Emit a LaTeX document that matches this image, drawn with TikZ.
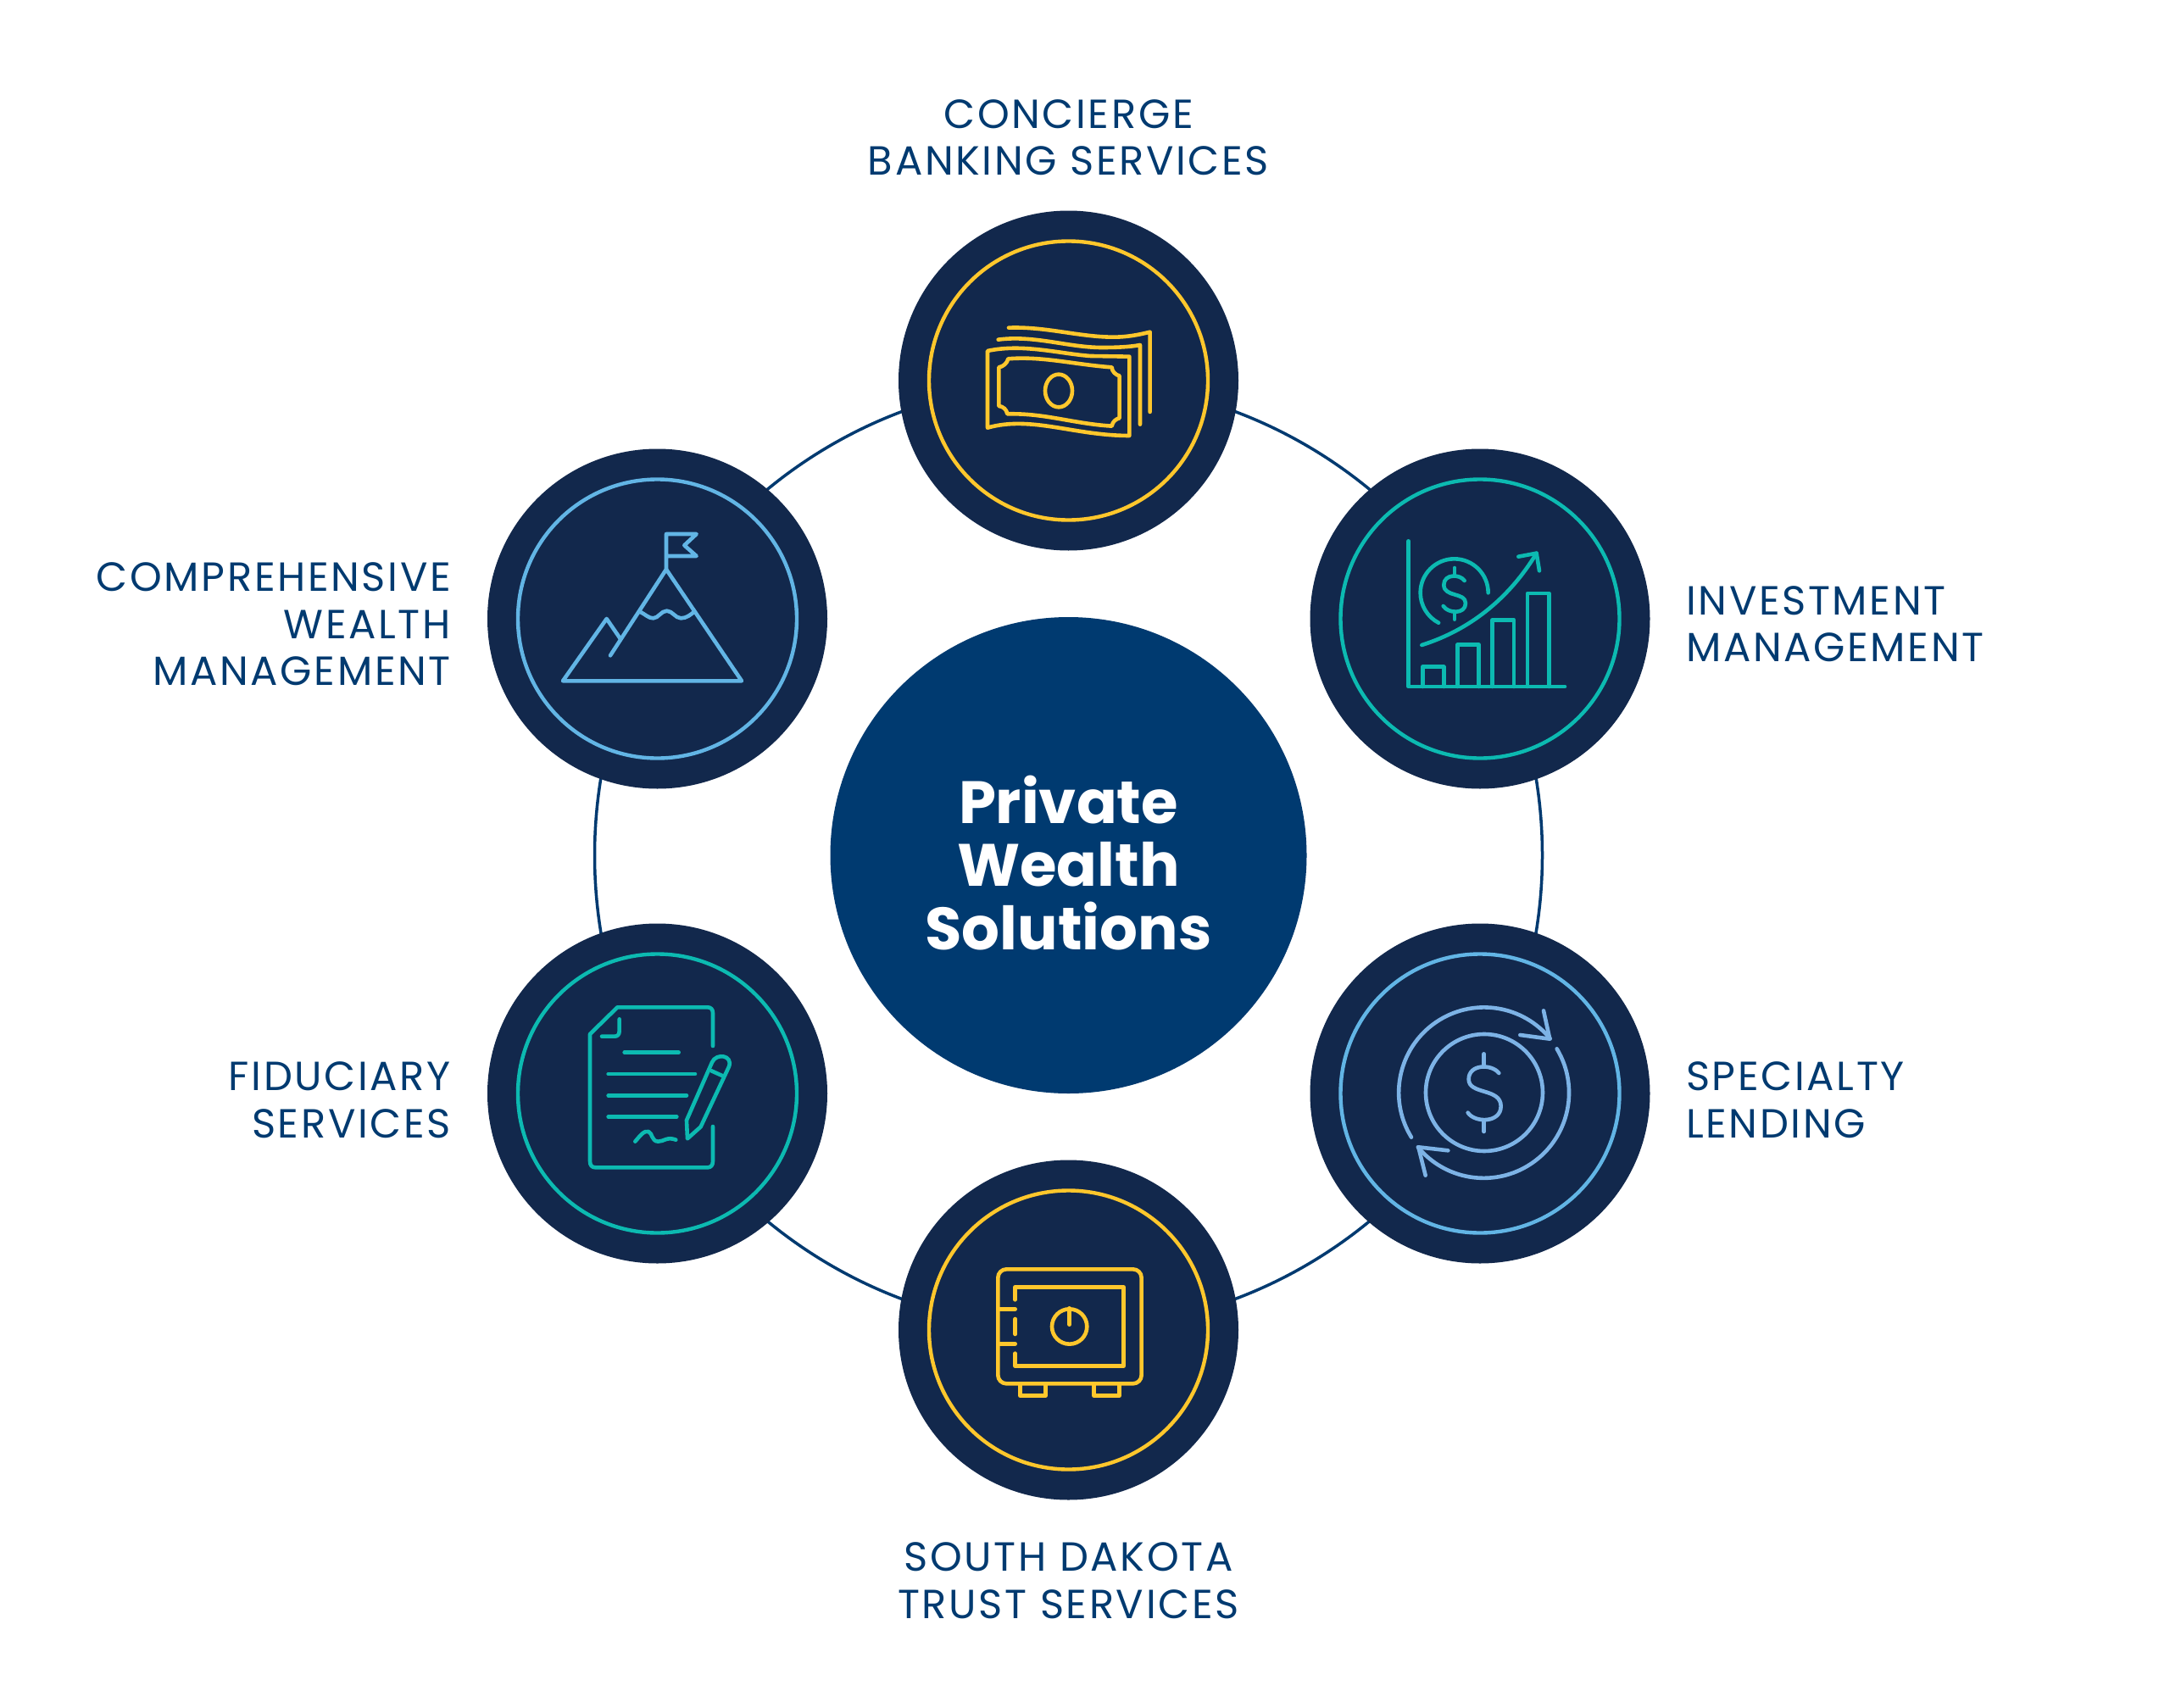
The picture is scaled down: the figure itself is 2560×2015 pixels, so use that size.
\documentclass[tikz,border=0pt]{standalone}
\usepackage{fontspec}
\setmainfont{Poppins}
\newfontfamily\labelfont[LetterSpace=5.5]{Poppins}
\newfontfamily\titlefont{Poppins Bold}
\definecolor{navy}{HTML}{12284C}
\definecolor{mid}{HTML}{003A70}
\definecolor{gold}{HTML}{FFC72C}
\definecolor{teal}{HTML}{0CBAB1}
\definecolor{sky}{HTML}{62B5E5}
\definecolor{soft}{HTML}{7DB3E6}
\tikzset{
  hub/.style={circle,fill=mid,minimum size=562pt,inner sep=0pt},
  hubtext/.style={text=white,align=center,inner sep=0pt,
    font=\titlefont\fontsize{70.5}{74.5}\selectfont},
  sat/.style={circle,fill=navy,minimum size=401pt,inner sep=0pt},
  ringnode/.style={circle,draw=#1,line width=4.4pt,minimum size=329pt,inner sep=0pt},
  lab/.style={text=mid,font=\labelfont\fontsize{48}{55.5}\selectfont,inner sep=0pt},
  ico/.style={draw=#1,line width=4.6pt,line cap=round,line join=round},
  zoomA/.style={x=0.3333pt,y=-0.3333pt}
}
\begin{document}
\begin{tikzpicture}[x=1pt,y=-1pt]
\path[use as bounding box,fill=white] (0,0) rectangle (2560,2015);
\coordinate (c) at (1260.5,1009);
\draw[mid,line width=3.5pt] (c) circle[radius=559];
\node[hub] (hubn) at (c) {};
\node[hubtext] (hubt) at (1260.5,1018) {Private\\Wealth\\Solutions};
\node[sat] (s1) at (1260.5,449) {};
\node[sat] (s2) at (1746,730) {};
\node[sat] (s3) at (1746,1290) {};
\node[sat] (s4) at (1260.5,1569) {};
\node[sat] (s5) at (775.5,1290) {};
\node[sat] (s6) at (775.5,730) {};
\node[ringnode=gold] (r1) at (s1) {};
\node[ringnode=teal] (r2) at (s2) {};
\node[ringnode=sky] (r3) at (s3) {};
\node[ringnode=gold] (r4) at (s4) {};
\node[ringnode=teal] (r5) at (s5) {};
\node[ringnode=sky] (r6) at (s6) {};
% labels
\node[lab,align=center] (l1) at (1260.5,162) {CONCIERGE\\BANKING SERVICES};
\node[lab,align=left,anchor=west] (l2) at (1989,736) {INVESTMENT\\MANAGEMENT};
\node[lab,align=left,anchor=west] (l3) at (1989,1297.5) {SPECIALTY\\LENDING};
\node[lab,align=center] (l4) at (1260.5,1864.5) {SOUTH DAKOTA\\TRUST SERVICES};
\node[lab,align=right,anchor=east] (l5) at (532,1297.5) {FIDUCIARY\\SERVICES};
\node[lab,align=right,anchor=east] (l6) at (532,736.5) {COMPREHENSIVE\\WEALTH\\MANAGEMENT};
% money
\begin{scope}[shift={(1100,330)},zoomA]
\path[ico=gold] (270,170) .. controls (400,165) and (520,203) .. (640,203) .. controls (690,203) and (730,195) .. (770,185) -- (770,468);
\path[ico=gold] (233,212) .. controls (360,195) and (480,240) .. (600,240) .. controls (650,240) and (700,238) .. (735,231) -- (735,512);
\path[ico=gold] (195,252) .. controls (320,225) and (450,262) .. (560,270) -- (697,272) -- (697,552) .. controls (500,552) and (350,480) .. (195,524) -- cycle;
\path[ico=gold] (268,280) .. controls (390,270) and (500,300) .. (635,310) .. controls (635,325) and (650,338) .. (662,340) -- (662,490) .. controls (650,492) and (637,503) .. (635,518) .. controls (500,510) and (400,472) .. (265,475) .. controls (263,460) and (250,448) .. (235,447) -- (235,310) .. controls (250,308) and (265,295) .. (268,280) -- cycle;
\path[ico=gold] (447,393) ellipse[x radius=48,y radius=58];
\end{scope}
% chart
\begin{scope}[shift={(1620,600)},zoomA]
\path[ico=teal] (125,115) -- (125,630) -- (678,630);
\path[ico=teal] (175,630) -- (175,560) -- (250,560) -- (250,630);
\path[ico=teal] (298,630) -- (298,482) -- (374,482) -- (374,630);
\path[ico=teal] (422,630) -- (422,394) -- (498,394) -- (498,630);
\path[ico=teal] (546,630) -- (546,300) -- (622,300) -- (622,630);
\path[ico=teal] (172,483) .. controls (340,430) and (480,320) .. (578,158);
\path[ico=teal] (514,170) -- (578,158) -- (588,220);
\path[ico=teal] (407,298) arc[start angle=0,end angle=-242.4,radius=120];
\path[ico=teal] (288,210) -- (288,235) (288,365) -- (288,392);
\path[ico=teal] (323,255) .. controls (308,232) and (250,230) .. (250,270) .. controls (250,315) and (327,295) .. (327,335) .. controls (327,375) and (265,372) .. (248,345);
\end{scope}
% cycle
\begin{scope}[shift={(1620,1160)},zoomA]
\path[ico=soft] (393,387) circle[radius=207];
\path[ico=soft] (135,545) arc[start angle=148.5,end angle=320.7,radius=302];
\path[ico=soft] (650,232) arc[start angle=-31,end angle=140.4,radius=302];
\path[ico=soft] (603,97) -- (625,197) -- (520,183);
\path[ico=soft] (185,680) -- (160,580) -- (265,592);
\path[ico=soft] (392,250) -- (392,290) (392,487) -- (392,525);
\path[ico=soft] (445,318) .. controls (420,285) and (338,285) .. (338,340) .. controls (338,395) and (452,370) .. (452,435) .. controls (452,495) and (360,495) .. (335,458);
\end{scope}
% safe
\begin{scope}[shift={(1150,1480)},zoomA]
\path[ico=gold,rounded corners=10pt] (82,52) rectangle (590,457);
\path[ico=gold] (143,160) -- (143,115) -- (527,115) -- (527,395) -- (143,395) -- (143,350);
\path[ico=gold] (143,228) -- (143,282);
\path[ico=gold] (85,193) -- (143,193) (85,316) -- (143,316);
\path[ico=gold] (335,255) circle[radius=62];
\path[ico=gold] (335,190) -- (335,248);
\path[ico=gold] (160,460) -- (160,500) -- (250,500) -- (250,460);
\path[ico=gold] (422,460) -- (422,500) -- (512,500) -- (512,460);
\end{scope}
% document
\begin{scope}[shift={(670,1170)},zoomA]
\path[ico=teal] (513,192) -- (513,75) .. controls (513,62) and (505,55) .. (495,55) -- (175,55) -- (78,150) -- (78,600) .. controls (78,615) and (85,622) .. (98,622) -- (495,622) .. controls (505,622) and (513,615) .. (513,600) -- (513,477);
\path[ico=teal] (182,97) -- (182,140) .. controls (182,152) and (175,158) .. (165,158) -- (120,158);
\path[ico=teal] (200,215) -- (392,215) (143,291) -- (450,291) (143,367) -- (420,367) (143,442) -- (385,442);
\path[ico=teal] (238,530) .. controls (255,510) and (270,490) .. (285,495) .. controls (300,500) and (295,530) .. (320,530) .. controls (340,530) and (350,512) .. (382,524);
\path[ico=teal] (423,520) -- (420,455) -- (510,250) .. controls (525,215) and (585,225) .. (570,265) -- (470,478) -- cycle;
\path[ico=teal] (508,280) -- (548,298);
\end{scope}
% mountain
\begin{scope}[shift={(650,610)},zoomA]
\path[ico=sky] (408,185) -- (675,580) -- (42,580) -- (197,360) -- (245,430);
\path[ico=sky] (210,490) -- (408,185) -- (408,60) -- (515,60) -- (472,100) -- (515,138) -- (408,138);
\path[ico=sky] (315,335) .. controls (335,345) and (345,358) .. (362,358) .. controls (380,358) and (390,332) .. (410,332) .. controls (430,332) and (440,358) .. (460,358) .. controls (480,358) and (495,345) .. (507,335);
\end{scope}
\end{tikzpicture}
\end{document}
